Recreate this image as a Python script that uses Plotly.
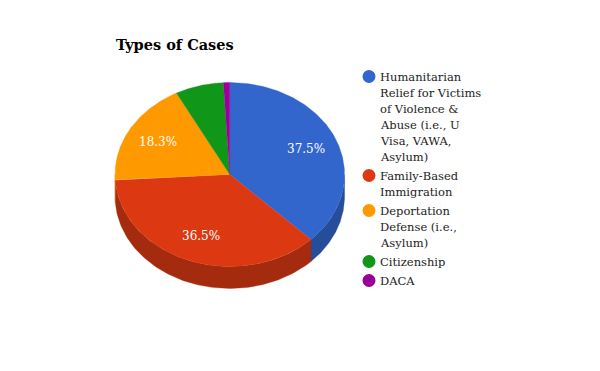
import numpy as np
import plotly.graph_objects as go

title = "Types of Cases"
categories = ["Humanitarian Relief for Victims of Violence & Abuse (i.e., U Visa, VAWA, Asylum)",
              "Family-Based Immigration", "Deportation Defense (i.e., Asylum)", "Citizenship", "DACA"]
legend_lines = [
    ["Humanitarian", "Relief for Victims", "of Violence &", "Abuse (i.e., U", "Visa, VAWA,", "Asylum)"],
    ["Family-Based", "Immigration"],
    ["Deportation", "Defense (i.e.,", "Asylum)"],
    ["Citizenship"],
    ["DACA"],
]
values = [37.5, 36.5, 18.3, 6.8, 0.9]
colors = ["#3366cc", "#dc3912", "#ff9900", "#109618", "#990099"]
side_colors = ["#264d99", "#a52b0e", "#bf7300", "#0c7112", "#730073"]
label_min = 10.0

W, H = 600, 371
PAGE_MARGIN = 8  # default body margin of the written page
CX, CY, RX, RY, DEPTH = 229.8, 174.5, 114.8, 92, 22
LABEL_F = 0.72
FONT = "DejaVu Serif"


def pt(a, dy=0.0):
    a = np.asarray(a)
    return CX + RX * np.sin(a), CY - RY * np.cos(a) + dy


fig = go.Figure()
fracs = np.array(values) / sum(values)
edges = np.concatenate([[0], np.cumsum(fracs)]) * 2 * np.pi

# Side wall (front half only: angles from pi/2 to 3*pi/2)
for i in range(len(values)):
    a0, a1 = max(edges[i], np.pi / 2), min(edges[i + 1], 3 * np.pi / 2)
    if a1 <= a0:
        continue
    t = np.linspace(a0, a1, 120)
    x1, y1 = pt(t)
    x2, y2 = pt(t[::-1], DEPTH)
    fig.add_trace(go.Scatter(x=np.r_[x1, x2, x1[0]], y=np.r_[y1, y2, y1[0]], mode="lines",
                             fill="toself", fillcolor=side_colors[i],
                             line=dict(color=side_colors[i], width=0.3), hoverinfo="skip"))

# Top face
for i in range(len(values)):
    t = np.linspace(edges[i], edges[i + 1], 200)
    x, y = pt(t)
    fig.add_trace(go.Scatter(x=np.r_[CX, x, CX], y=np.r_[CY, y, CY], mode="lines",
                             fill="toself", fillcolor=colors[i],
                             line=dict(color=colors[i], width=0.3), hoverinfo="skip"))

# Percentage labels
for i, v in enumerate(values):
    if v < label_min:
        continue
    mid = (edges[i] + edges[i + 1]) / 2
    x = CX + RX * LABEL_F * np.sin(mid)
    y = CY - RY * LABEL_F * np.cos(mid)
    fig.add_annotation(x=x, y=y, text=f"{v:.1f}%", showarrow=False, xanchor="center", yanchor="middle",
                       font=dict(family=FONT, size=12, color="white"))

# Legend
LEG_Y0, LINE_H, GAP = 76.5, 16, 3
LEG_MX, LEG_TX = 369, 380
y = LEG_Y0
for i, lines in enumerate(legend_lines):
    fig.add_trace(go.Scatter(x=[LEG_MX], y=[y], mode="markers", hoverinfo="skip",
                             marker=dict(size=13, color=colors[i], line=dict(width=0))))
    for ln in lines:
        fig.add_annotation(x=LEG_TX, y=y, text=ln, showarrow=False, xanchor="left", yanchor="middle",
                           xshift=-2, font=dict(family=FONT, size=11.5, color="#222222"))
        y += LINE_H
    y += GAP

fig.add_annotation(x=116, y=44.5, text=f"<b>{title}</b>", showarrow=False, xanchor="left", yanchor="middle",
                   xshift=-2, font=dict(family=FONT, size=14.5, color="#000000"))

fig.update_layout(width=W - PAGE_MARGIN, height=H - PAGE_MARGIN, margin=dict(l=0, r=0, t=0, b=0),
                  showlegend=False, paper_bgcolor="white", plot_bgcolor="white",
                  xaxis=dict(range=[PAGE_MARGIN, W], visible=False, fixedrange=True),
                  yaxis=dict(range=[H, PAGE_MARGIN], visible=False, fixedrange=True))
fig.write_html("out.html", config={"displayModeBar": False})
